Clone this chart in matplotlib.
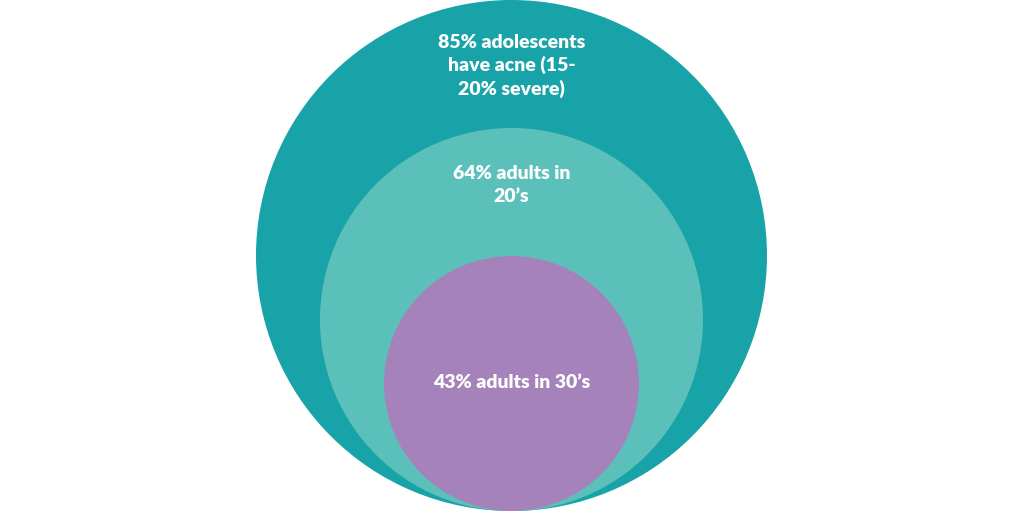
import matplotlib.pyplot as plt
from matplotlib.patches import Circle

# nested circles (pixel units of a 1024x511 canvas)
labels = ["85% adolescents\nhave acne (15-\n20% severe)", "64% adults in\n20\u2019s", "43% adults in 30\u2019s"]
centers_x = [511.5, 511.5, 511.5]
centers_y = [255.5, 319.5, 383.5]
radii = [255.5, 191.5, 127.5]
label_y = [66, 185, 383]
colors = ["#17A3A8", "#5CC0BA", "#A682BA"]

fig = plt.figure(figsize=(10.24, 5.11), dpi=100)
ax = fig.add_axes([0, 0, 1, 1])
ax.set_xlim(0, 1024)
ax.set_ylim(511, 0)
ax.set_aspect("equal")
ax.axis("off")

for cx, cy, r, c in zip(centers_x, centers_y, radii, colors):
    ax.add_patch(Circle((cx, cy), r, facecolor=c, edgecolor="none"))

for cx, ly, lab in zip(centers_x, label_y, labels):
    ax.text(cx, ly, lab, ha="center", va="center", color="white",
            fontsize=14, fontweight="heavy", family=["Lato", "DejaVu Sans"],
            linespacing=1.38)

fig.savefig("out.png", dpi=100)
